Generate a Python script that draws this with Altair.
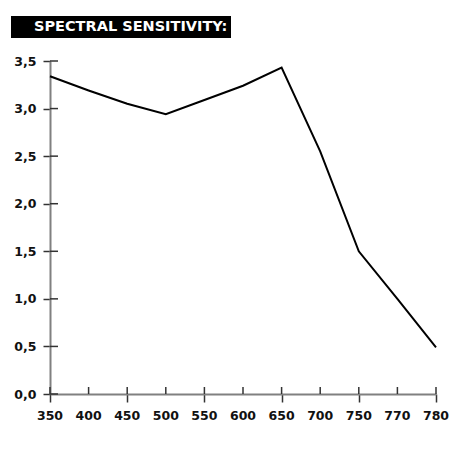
import altair as alt
import pandas as pd

wavelengths = ["350", "400", "450", "500", "550", "600", "650", "700", "750", "770", "780"]
sensitivity = [3.34, 3.19, 3.05, 2.94, 3.09, 3.24, 3.43, 2.55, 1.50, 1.00, 0.49]
y_ticks = [0.0, 0.5, 1.0, 1.5, 2.0, 2.5, 3.0, 3.5]
title_text = "SPECTRAL SENSITIVITY:"

W, H = 386, 333
FONT = "DejaVu Sans"

idx = list(range(len(wavelengths)))
df = pd.DataFrame({"i": idx, "wl": wavelengths, "s": sensitivity})
dft = pd.DataFrame({"t": y_ticks})
dtitle = pd.DataFrame({"label": [title_text]})

xscale = alt.Scale(domain=[0, len(wavelengths) - 1], nice=False, zero=False)
yscale = alt.Scale(domain=[0, 3.5], nice=False, zero=True)

xaxis = alt.Axis(title=None, grid=False, values=idx, domainColor="#808080", domainWidth=2,
                 tickColor="#333333", tickWidth=1.5, tickSize=8, labels=False)
yaxis = alt.Axis(title=None, grid=False, values=y_ticks, domainColor="#808080",
                 domainWidth=2, tickColor="#333333", tickWidth=1.5, tickSize=7,
                 labelFont=FONT, labelFontWeight="bold", labelFontSize=12.5,
                 labelColor="#111111", labelPadding=7, labelFlush=False,
                 labelExpr="replace(format(datum.value, '.1f'), '.', ',')")

line = alt.Chart(df).mark_line(color="black", strokeWidth=2).encode(
    x=alt.X("i:Q", scale=xscale, axis=xaxis),
    y=alt.Y("s:Q", scale=yscale, axis=yaxis),
)

xin = alt.Chart(df).mark_rule(color="#333333", strokeWidth=1.5).encode(
    x=alt.X("i:Q", scale=xscale),
    y=alt.value(H - 7), y2=alt.value(H),
)

xlab = alt.Chart(df).mark_text(
    font=FONT, fontWeight="bold", fontSize=12.5, color="#111111",
    align="center", baseline="middle",
).encode(
    x=alt.X("i:Q", scale=xscale),
    y=alt.value(H + 22),
    text="wl:N",
)

yin = alt.Chart(dft).mark_rule(color="#333333", strokeWidth=1.5).encode(
    y=alt.Y("t:Q", scale=yscale),
    x=alt.value(0), x2=alt.value(8),
)

box = alt.Chart(dtitle).mark_rect(color="black").encode(
    x=alt.value(-39), x2=alt.value(181), y=alt.value(-45), y2=alt.value(-23),
)

ttext = alt.Chart(dtitle).mark_text(
    color="white", font=FONT, fontWeight="bold", fontSize=14.5,
    align="left", baseline="middle",
).encode(x=alt.value(-16), y=alt.value(-34), text="label:N")

chart = alt.layer(xin, yin, line, xlab, box, ttext).properties(
    width=W, height=H,
    padding={"left": 42, "top": 53, "right": 22, "bottom": 40},
    autosize=alt.AutoSizeParams(type="none"),
    background="white",
).configure_view(stroke=None)

chart.save("out.html", embed_options={"renderer": "svg", "actions": False})
